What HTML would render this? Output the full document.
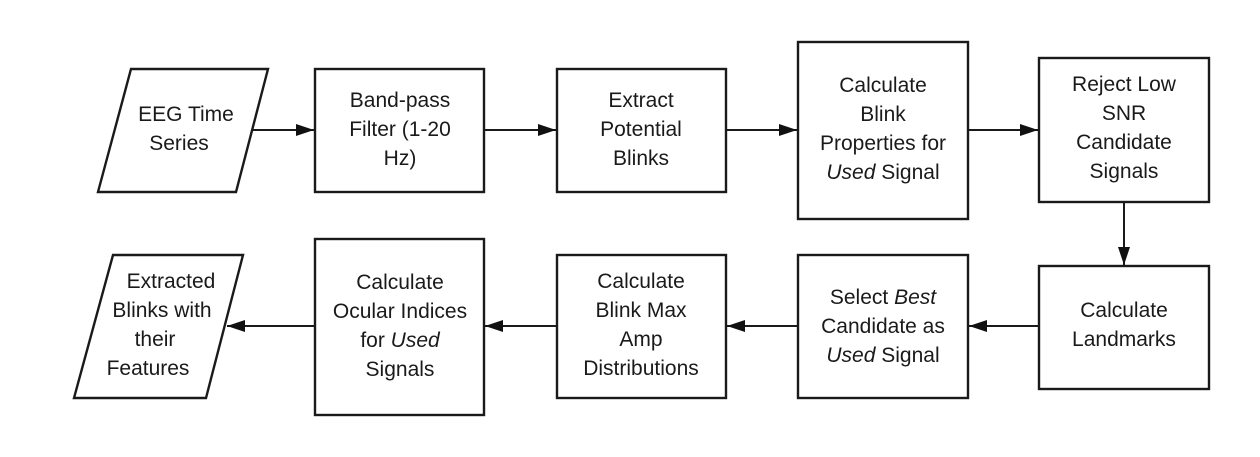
<!DOCTYPE html>
<html><head><style>
body{margin:0;background:#fff;}
svg text{font-family:"Liberation Sans",Arial,sans-serif;font-size:21px;fill:#1a1a1a;text-anchor:middle;}
</style></head><body>
<svg width="1260" height="452" viewBox="0 0 1260 452" xmlns="http://www.w3.org/2000/svg">
<defs>
<marker id="b" viewBox="0 0 18 12" markerWidth="18" markerHeight="12" refX="18" refY="6" orient="auto" markerUnits="userSpaceOnUse"><path d="M0,0 L18,6 L0,12 z" fill="#111"/></marker></defs>
<g fill="none" stroke="#1a1a1a" stroke-width="2.4">
<polygon points="131,69 268,69 236,192 98,192"/>
<rect x="315" y="69" width="169" height="123"/>
<rect x="557" y="69" width="169" height="123"/>
<rect x="798" y="42" width="170" height="177"/>
<rect x="1039" y="58" width="170" height="144"/>
<rect x="1039" y="266" width="170" height="123"/>
<rect x="798" y="255" width="170" height="143"/>
<rect x="557" y="255" width="169" height="143"/>
<rect x="315" y="239" width="169" height="176"/>
<polygon points="113,255 243,255 206,398 74,398"/>
<g stroke-width="2" marker-end="url(#b)">
<line x1="252" y1="130" x2="314" y2="130"/>
<line x1="484" y1="130" x2="556" y2="130"/>
<line x1="726" y1="130" x2="797" y2="130"/>
<line x1="968" y1="130" x2="1038" y2="130"/>
<line x1="1124" y1="202" x2="1124" y2="265"/>
<line x1="1039" y1="326" x2="969" y2="326"/>
<line x1="798" y1="326" x2="727" y2="326"/>
<line x1="557" y1="326" x2="485" y2="326"/>
<line x1="315" y1="326" x2="227" y2="326"/>
</g></g>
<text x="186" y="121">EEG Time</text><text x="179" y="150">Series</text>
<text x="400" y="107">Band-pass</text><text x="400" y="136">Filter (1-20</text><text x="400" y="165">Hz)</text>
<text x="641" y="107">Extract</text><text x="641" y="136">Potential</text><text x="641" y="165">Blinks</text>
<text x="883" y="92">Calculate</text><text x="883" y="121">Blink</text><text x="883" y="150">Properties for</text><text x="883" y="179"><tspan font-style="italic">Used</tspan> Signal</text>
<text x="1124" y="91">Reject Low</text><text x="1124" y="120">SNR</text><text x="1124" y="149">Candidate</text><text x="1124" y="178">Signals</text>
<text x="1124" y="317">Calculate</text><text x="1124" y="346">Landmarks</text>
<text x="883" y="304">Select <tspan font-style="italic">Best</tspan></text><text x="883" y="333">Candidate as</text><text x="883" y="362"><tspan font-style="italic">Used</tspan> Signal</text>
<text x="641" y="288">Calculate</text><text x="641" y="317">Blink Max</text><text x="641" y="346">Amp</text><text x="641" y="375">Distributions</text>
<text x="400" y="289">Calculate</text><text x="400" y="318">Ocular Indices</text><text x="400" y="347">for <tspan font-style="italic">Used</tspan></text><text x="400" y="376">Signals</text>
<text x="171" y="288">Extracted</text><text x="162" y="317">Blinks with</text><text x="155" y="346">their</text><text x="148" y="375">Features</text>
</svg>
</body></html>
